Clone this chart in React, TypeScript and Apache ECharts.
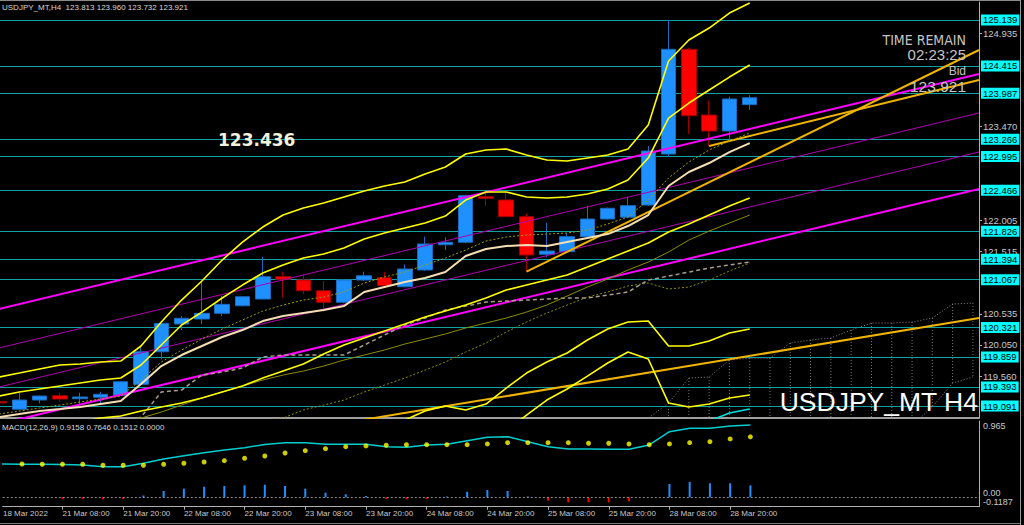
import React, { useEffect, useRef } from 'react';
import * as echarts from 'echarts';

// ---------- data ----------
const xLabelIndex = [0, 3, 6, 9, 12, 15, 18, 21, 24, 27, 30, 33, 36];
const xLabelText = ['18 Mar 2022', '21 Mar 08:00', '21 Mar 20:00', '22 Mar 08:00', '22 Mar 20:00', '23 Mar 08:00', '23 Mar 20:00', '24 Mar 08:00', '24 Mar 20:00', '25 Mar 08:00', '25 Mar 20:00', '28 Mar 08:00', '28 Mar 20:00'];

const opens = [119.16, 119.04, 119.185, 119.252, 119.205, 119.227, 119.258, 119.431, 119.941, 120.376, 120.454, 120.543, 120.662, 120.767, 121.117, 121.065, 120.897, 120.716, 121.065, 121.101, 120.96, 121.222, 121.618, 121.656, 122.37, 122.319, 122.057, 121.468, 121.509, 121.744, 122.021, 122.05, 122.24, 123.039, 124.68, 123.65, 123.4, 123.813];
const closes = [119.14, 119.185, 119.247, 119.2, 119.232, 119.274, 119.471, 119.941, 120.386, 120.465, 120.543, 120.684, 120.803, 121.117, 121.076, 120.897, 120.716, 121.065, 121.132, 120.976, 121.237, 121.629, 121.656, 122.386, 122.345, 122.057, 121.457, 121.519, 121.744, 122.021, 122.189, 122.23, 123.086, 124.68, 123.639, 123.4, 123.901, 123.921];
const lows = [119.13, 119.03, 119.133, 119.158, 119.106, 119.122, 119.25, 119.42, 119.822, 120.282, 120.376, 120.5, 120.65, 120.76, 120.788, 120.846, 120.568, 120.7, 121.05, 120.96, 120.95, 121.21, 121.535, 121.64, 122.225, 122.05, 121.195, 121.421, 121.5, 121.73, 122.01, 122.04, 122.23, 122.995, 123.353, 123.165, 123.259, 123.732];
const highs = [119.17, 119.294, 119.255, 119.299, 119.299, 119.315, 119.48, 120.02, 120.39, 120.501, 121.038, 120.819, 120.81, 121.43, 121.195, 121.159, 121.049, 121.08, 121.195, 121.195, 121.311, 121.744, 121.734, 122.4, 122.439, 122.439, 122.11, 121.963, 121.797, 122.229, 122.2, 122.37, 123.165, 125.139, 124.705, 123.875, 123.937, 123.96];

const bbUpper2 = [119.545, 119.607, 119.67, 119.733, 119.748, 119.78, 119.795, 120.031, 120.407, 120.751, 121.049, 121.378, 121.66, 121.895, 122.083, 122.193, 122.271, 122.365, 122.459, 122.538, 122.6, 122.726, 122.835, 123.039, 123.102, 123.117, 123.023, 122.945, 122.929, 122.976, 123.023, 123.117, 123.493, 124.496, 124.825, 125.013, 125.248, 125.405];
const bbUpper1 = [119.247, 119.31, 119.357, 119.404, 119.451, 119.498, 119.529, 119.733, 120.046, 120.36, 120.563, 120.783, 120.986, 121.174, 121.3, 121.409, 121.472, 121.566, 121.707, 121.801, 121.879, 121.958, 122.067, 122.318, 122.444, 122.444, 122.365, 122.35, 122.365, 122.412, 122.491, 122.632, 122.976, 123.603, 123.838, 124.042, 124.245, 124.434];
const bbMiddle = [118.652, 118.699, 118.746, 118.793, 118.84, 118.902, 118.934, 119.012, 119.075, 119.137, 119.216, 119.31, 119.404, 119.529, 119.639, 119.748, 119.905, 120.046, 120.156, 120.266, 120.375, 120.485, 120.579, 120.673, 120.783, 120.908, 120.986, 121.065, 121.143, 121.268, 121.394, 121.519, 121.644, 121.817, 121.942, 122.083, 122.224, 122.35];
const bbLower1 = [118.056, 118.088, 118.135, 118.182, 118.229, 118.307, 118.338, 118.291, 118.103, 117.915, 117.868, 117.837, 117.821, 117.884, 117.978, 118.088, 118.213, 118.526, 118.605, 118.73, 118.871, 119.012, 119.09, 119.028, 119.122, 119.372, 119.607, 119.78, 119.921, 120.125, 120.297, 120.407, 120.422, 120.031, 120.031, 120.109, 120.234, 120.297];
const bbLower2 = [117.759, 117.79, 117.821, 117.853, 117.931, 118.025, 118.072, 117.994, 117.743, 117.523, 117.382, 117.241, 117.147, 117.163, 117.194, 117.304, 117.414, 117.727, 117.853, 117.994, 118.15, 118.244, 118.323, 118.307, 118.464, 118.699, 118.949, 119.184, 119.357, 119.56, 119.764, 119.937, 119.827, 119.137, 119.075, 119.122, 119.216, 119.263];
const bbLower3 = [null, null, null, null, null, null, null, null, null, null, null, null, null, null, null, null, null, null, null, null, null, null, null, null, null, null, null, null, null, null, null, null, null, 118.714, 118.777, 118.855, 118.981, 119.043];

const maWheat = [118.918, 118.965, 119.012, 119.043, 119.075, 119.122, 119.169, 119.435, 119.717, 119.89, 120.031, 120.172, 120.281, 120.422, 120.501, 120.548, 120.595, 120.657, 120.877, 120.955, 121.033, 121.096, 121.19, 121.441, 121.55, 121.597, 121.613, 121.597, 121.66, 121.723, 121.785, 121.911, 122.083, 122.538, 122.757, 122.898, 123.07, 123.211];
const maDotted = [118.965, 119.012, 119.059, 119.106, 119.153, 119.2, 119.247, 119.498, 119.78, 119.968, 120.14, 120.297, 120.438, 120.579, 120.673, 120.751, 120.798, 120.877, 121.018, 121.112, 121.19, 121.3, 121.409, 121.535, 121.676, 121.738, 121.77, 121.785, 121.801, 121.848, 121.942, 122.052, 122.318, 122.663, 122.914, 123.102, 123.243, 123.368];
const maOlive = [118.558, 118.605, 118.652, 118.699, 118.746, 118.793, 118.84, 118.902, 118.996, 119.106, 119.216, 119.31, 119.404, 119.498, 119.576, 119.639, 119.717, 119.811, 119.89, 119.968, 120.062, 120.14, 120.219, 120.313, 120.391, 120.469, 120.563, 120.673, 120.814, 120.955, 121.08, 121.221, 121.347, 121.503, 121.691, 121.832, 121.958, 122.083];
const maOliveDotted = [118.401, 118.417, 118.432, 118.448, 118.464, 118.479, 118.495, 118.526, 118.558, 118.605, 118.652, 118.714, 118.793, 118.871, 118.902, 119.028, 119.106, 119.184, 119.31, 119.419, 119.529, 119.654, 119.78, 119.937, 120.078, 120.25, 120.407, 120.548, 120.673, 120.798, 120.877, 120.971, 121.018, 120.924, 120.955, 121.065, 121.206, 121.331];
const kijun = [118.714, 118.714, 118.714, 118.714, 118.714, 118.714, 118.793, 118.918, 119.31, 119.341, 119.576, 119.623, 119.686, 119.858, 119.89, 119.89, 119.89, 119.89, 120.046, 120.203, 120.36, 120.469, 120.595, 120.657, 120.72, 120.736, 120.751, 120.767, 120.783, 120.783, 120.83, 120.877, 121.065, 121.127, 121.19, 121.253, 121.3, 121.347];

const cloudStart = 31;
const spanA = [118.714, 118.902, 119.137, 119.529, 119.545, 119.811, 119.842, 119.842, 120.078, 120.125, 120.156, 120.281, 120.391, 120.391, 120.407, 120.469, 120.689, 120.704];
const spanB = [118.323, 118.323, 118.37, 118.37, 118.401, 118.401, 118.432, 118.432, 118.464, 118.464, 118.495, 118.558, 118.62, 118.683, 118.793, 119.075, 119.451, 119.545];

// trend lines: [startIndex, startPrice, endIndex, endPrice]
const magentaThick = [[0, 120.611, 48.3, 124.293], [0, 118.809, 48.3, 122.491]];
const magentaThin = [[0, 120.0, 48.3, 123.682], [0, 119.388, 48.3, 123.071]];
const goldLines = [[26, 121.195, 48.3, 124.669], [35, 123.165, 48.3, 124.199], [0, 117.931, 48.3, 120.47]];

const levelPrices = [125.139, 124.415, 123.987, 123.266, 122.995, 122.466, 121.826, 121.394, 121.067, 120.321, 119.859, 119.393, 119.091];
const priceTicks = [124.935, 123.47, 122.005, 121.515, 120.535, 120.05, 119.56];
const bidPrice = 123.921;

const macdMain = [0.4215, 0.419, 0.4177, 0.4139, 0.4089, 0.3873, 0.3873, 0.4304, 0.4848, 0.5266, 0.5646, 0.5987, 0.6278, 0.6684, 0.6911, 0.6911, 0.6709, 0.6709, 0.6709, 0.6405, 0.6329, 0.662, 0.6709, 0.7165, 0.7595, 0.7671, 0.7038, 0.6405, 0.6114, 0.6114, 0.6076, 0.6076, 0.662, 0.8304, 0.8734, 0.8734, 0.9025, 0.9158];
const macdSignal = [0.4304, 0.4215, 0.4177, 0.4177, 0.4177, 0.4051, 0.4051, 0.4051, 0.4177, 0.4304, 0.4468, 0.4633, 0.4937, 0.5228, 0.5608, 0.5899, 0.6152, 0.6405, 0.6494, 0.6582, 0.6658, 0.6658, 0.6658, 0.6658, 0.6747, 0.6911, 0.6911, 0.6911, 0.6911, 0.6835, 0.6835, 0.6747, 0.6658, 0.6747, 0.6911, 0.7038, 0.738, 0.7646];
const macdHist = [0, 0, 0, -0.0215, -0.0215, -0.0253, -0.0215, 0.0228, 0.0797, 0.1089, 0.1342, 0.143, 0.1519, 0.1595, 0.143, 0.1089, 0.0582, 0.038, 0.0165, -0.0215, -0.0253, -0.0215, 0.0101, 0.0709, 0.0924, 0.0797, 0.0101, -0.043, -0.0633, -0.0633, -0.0633, -0.0506, 0, 0.1684, 0.1937, 0.1772, 0.1772, 0.1512];
const macdMax = 0.965;
const macdMin = -0.1187;

const X_MIN = 0.05;
const X_MAX = 48.3;
const PRICE_MIN = 118.903;
const PRICE_MAX = 125.421;

const pairs = (arr: (number | null)[], start = 0) =>
  arr.map((v, i) => [i + start, v]).filter((p) => p[1] !== null);

export default function App() {
  const ref = useRef<HTMLDivElement>(null);
  useEffect(() => {
    document.body.style.margin = '0';
    document.body.style.background = '#000';
    const chart = echarts.init(ref.current as HTMLDivElement, null, { renderer: 'svg' });
    const font = "'Liberation Sans', Arial, sans-serif";
    const labelGray = '#c8c8c8';
    const axisGray = '#b0b0b0';

    const line = (data: any[], color: string, width: number, type: any = 'solid', z = 4, extra: any = {}) => ({
      type: 'line',
      data,
      xAxisIndex: 0,
      yAxisIndex: 0,
      showSymbol: false,
      symbol: 'none',
      silent: true,
      clip: true,
      z,
      lineStyle: { color, width, type },
      ...extra,
    });
    const seg = (s: number[]) => [[s[0], s[1]], [s[2], s[3]]];

    const series: any[] = [];

    // cloud hatching
    series.push({
      type: 'custom',
      xAxisIndex: 0,
      yAxisIndex: 0,
      clip: true,
      silent: true,
      z: 1,
      data: spanA.map((a, i) => [i + cloudStart, a, spanB[i]]),
      renderItem: (params: any, api: any) => {
        const cs = params.coordSys;
        const p1 = api.coord([api.value(0), api.value(1)]);
        const p2 = api.coord([api.value(0), api.value(2)]);
        const bottom = cs.y + cs.height;
        return {
          type: 'line',
          shape: { x1: p1[0], y1: Math.min(p1[1], bottom), x2: p1[0], y2: Math.min(p2[1], bottom) },
          style: { stroke: '#7a7a7a', lineWidth: 1, lineDash: [1, 2] },
        };
      },
    });
    series.push(line(pairs(spanA, cloudStart), '#8a8a8a', 1, [1, 2], 1));
    series.push(line(pairs(spanB, cloudStart), '#8a8a8a', 1, [1, 2], 1));

    // bid label (below level labels)
    series.push(
      line([], '#000', 0, 'solid', 1, {
        markLine: {
          silent: true,
          z: 1,
          symbol: ['none', 'none'],
          animation: false,
          lineStyle: { opacity: 0 },
          label: {
            show: true, position: 'end', distance: 2, color: '#000', backgroundColor: '#ffffff',
            padding: [1, 2, 0, 2], fontSize: 9.5, fontFamily: font, formatter: '{b}',
          },
          data: [{ yAxis: bidPrice, name: bidPrice.toFixed(3) }],
        },
      })
    );

    // candles + horizontal levels
    series.push({
      type: 'candlestick',
      xAxisIndex: 0,
      yAxisIndex: 0,
      barWidth: 15,
      silent: true,
      z: 3,
      data: opens.map((o, i) => [i, o, closes[i], lows[i], highs[i]]),
      itemStyle: { color: '#1e90ff', color0: '#ff0000', borderColor: '#1a6cc0', borderColor0: '#a00000', borderWidth: 1 },
      markLine: {
        silent: true,
        z: 2,
        symbol: ['none', 'none'],
        animation: false,
        lineStyle: { color: '#10a0a0', width: 1, type: 'solid' },
        label: {
          show: true, position: 'end', distance: 2, color: '#000', backgroundColor: '#00ffff',
          padding: [1, 2, 0, 2], fontSize: 9.5, fontFamily: font, formatter: '{b}',
        },
        data: levelPrices.map((v) => ({ yAxis: v, name: v.toFixed(3) })),
      },
    });

    magentaThick.forEach((s) => series.push(line(seg(s), '#ff00ff', 2)));
    magentaThin.forEach((s) => series.push(line(seg(s), '#b000b0', 1)));
    goldLines.forEach((s) => series.push(line(seg(s), '#f0b400', 2)));

    series.push(line(pairs(kijun), '#a89c8c', 1.5, [4, 3]));
    series.push(line(pairs(maOliveDotted), '#8c8c00', 1, [2, 2]));
    series.push(line(pairs(maOlive), '#8c8c00', 1));
    series.push(line(pairs(maDotted), '#a0a000', 1, [2, 2]));
    series.push(line(pairs(maWheat), '#f5deb3', 2));
    series.push(line(pairs(bbUpper2), '#ffff00', 1.6));
    series.push(line(pairs(bbUpper1), '#ffff00', 1.6));
    series.push(line(pairs(bbMiddle), '#ffff00', 1.6));
    series.push(line(pairs(bbLower1), '#ffff00', 1.6));
    series.push(line(pairs(bbLower2), '#ffff00', 1.6));
    series.push(line(pairs(bbLower3), '#00e0e0', 1.6));

    // in-chart level texts
    series.push(
      line([], '#000', 0, 'solid', 6, {
        markLine: {
          silent: true,
          z: 6,
          symbol: ['none', 'none'],
          animation: false,
          lineStyle: { opacity: 0 },
          label: {
            show: true, position: 'insideMiddleTop', distance: 3, color: '#e4e4e4',
            fontSize: 14, fontFamily: font, formatter: '{b}',
          },
          data: levelPrices.map((v) => ({ yAxis: v, name: v.toFixed(3) })),
        },
      })
    );

    // MACD
    series.push({
      type: 'bar',
      xAxisIndex: 1,
      yAxisIndex: 1,
      barWidth: 2,
      silent: true,
      z: 2,
      data: macdHist.map((v, i) => ({ value: [i, v], itemStyle: { color: v >= 0 ? '#1e90ff' : '#ff0000' } })),
      markLine: {
        silent: true,
        symbol: ['none', 'none'],
        animation: false,
        label: { show: false },
        lineStyle: { color: '#8a8a8a', type: [2, 2], width: 1 },
        data: [{ yAxis: 0 }],
      },
    });
    series.push({
      type: 'line', xAxisIndex: 1, yAxisIndex: 1, showSymbol: false, symbol: 'none', silent: true, z: 3,
      data: pairs(macdMain), lineStyle: { color: '#00ced1', width: 1.5 },
    });
    series.push({
      type: 'scatter', xAxisIndex: 1, yAxisIndex: 1, symbolSize: 5, silent: true, z: 4,
      data: pairs(macdSignal), itemStyle: { color: '#ffff00' },
    });

    const macdAxis = (values: number[], fmt: (v: number) => string, vAlign: string, showLine: boolean) => ({
      type: 'value',
      gridIndex: 1,
      position: 'right',
      min: macdMin,
      max: macdMax,
      axisLine: { show: showLine, onZero: false, lineStyle: { color: axisGray } },
      axisTick: { show: false },
      axisLabel: {
        show: values.length > 0,
        customValues: values,
        margin: 4,
        color: labelGray,
        fontSize: 9,
        fontFamily: font,
        verticalAlign: vAlign,
        showMinLabel: true,
        showMaxLabel: true,
        formatter: fmt,
      },
      splitLine: { show: false },
    });

    const option: any = {
      animation: false,
      backgroundColor: '#000',
      textStyle: { fontFamily: font },
      grid: [
        { left: 0, right: 45, top: 2, bottom: 107 },
        { left: 0, right: 45, top: 421, bottom: 18.3 },
      ],
      xAxis: [
        {
          type: 'value', gridIndex: 0, min: X_MIN, max: X_MAX,
          axisLine: { show: true, onZero: false, lineStyle: { color: '#a0a0a0', width: 2 } },
          axisTick: { show: false }, axisLabel: { show: false }, splitLine: { show: false },
        },
        {
          type: 'value', gridIndex: 1, min: X_MIN, max: X_MAX,
          axisLine: { show: true, onZero: false, lineStyle: { color: axisGray, width: 1 } },
          axisTick: { show: true, customValues: xLabelIndex.slice(1), length: 3, lineStyle: { color: axisGray } },
          axisLabel: {
            show: true,
            customValues: [0.06].concat(xLabelIndex.slice(1)),
            align: 'left',
            margin: 3,
            color: labelGray,
            fontSize: 8,
            fontFamily: font,
            showMinLabel: true,
            showMaxLabel: true,
            formatter: (v: number) => {
              const k = xLabelIndex.findIndex((x) => Math.abs(x - v) < 0.5);
              return k >= 0 ? xLabelText[k] : '';
            },
          },
          splitLine: { show: false },
        },
      ],
      yAxis: [
        {
          type: 'value', gridIndex: 0, position: 'right', min: PRICE_MIN, max: PRICE_MAX,
          axisLine: { show: true, onZero: false, lineStyle: { color: axisGray } },
          axisTick: { show: true, customValues: priceTicks, length: 3, lineStyle: { color: axisGray } },
          axisLabel: {
            show: true, customValues: priceTicks, margin: 4, color: labelGray, fontSize: 9.5, fontFamily: font,
            formatter: (v: number) => v.toFixed(3),
          },
          splitLine: { show: false },
        },
        macdAxis([], (v) => v.toFixed(3), 'middle', true),
        macdAxis([0], () => '0.00', 'bottom', false),
        macdAxis([macdMin], (v) => v.toFixed(4), 'bottom', false),
      ],
      graphic: [
        { type: 'line', shape: { x1: 0, y1: 0.5, x2: 1020, y2: 0.5 }, style: { stroke: '#8a8a8a', lineWidth: 1 }, silent: true },
        { type: 'line', shape: { x1: 1020.5, y1: 0, x2: 1020.5, y2: 525 }, style: { stroke: '#9a9a9a', lineWidth: 1 }, silent: true },
        { type: 'line', shape: { x1: 0, y1: 523.5, x2: 1020, y2: 523.5 }, style: { stroke: '#7a7a7a', lineWidth: 1 }, silent: true },
        {
          type: 'text', x: 983, y: 426, silent: true, z: 100,
          style: { text: macdMax.toFixed(3), fill: labelGray, fontSize: 9, fontFamily: font, verticalAlign: 'middle', align: 'left' },
        },
        {
          type: 'text', x: 2, y: 7, silent: true, z: 100,
          style: { text: 'USDJPY_MT,H4  123.813 123.960 123.732 123.921', fill: '#d8d8d8', fontSize: 8, fontFamily: font, verticalAlign: 'middle', align: 'left' },
        },
        {
          type: 'text', x: 2, y: 427, silent: true, z: 100,
          style: { text: 'MACD(12,26,9) 0.9158 0.7646 0.1512 0.0000', fill: '#d8d8d8', fontSize: 8, fontFamily: font, verticalAlign: 'middle', align: 'left' },
        },
        {
          type: 'text', x: 218, y: 140, silent: true, z: 100,
          style: { text: '123.436', fill: '#f2f2dc', fontSize: 17, fontWeight: 'bold', fontFamily: "'DejaVu Sans', sans-serif", verticalAlign: 'middle', align: 'left' },
        },
        {
          type: 'text', x: 966, y: 40, silent: true, z: 100,
          style: { text: 'TIME REMAIN', fill: '#c4c4c4', fontSize: 14, fontFamily: "'Liberation Sans Narrow', 'DejaVu Sans Condensed', sans-serif", verticalAlign: 'middle', align: 'right' },
        },
        {
          type: 'text', x: 966, y: 54.5, silent: true, z: 100,
          style: { text: '02:23:25', fill: '#c4c4c4', fontSize: 15, fontFamily: font, verticalAlign: 'middle', align: 'right' },
        },
        {
          type: 'text', x: 966, y: 71, silent: true, z: 100,
          style: { text: 'Bid', fill: '#c4c4c4', fontSize: 12, fontFamily: font, verticalAlign: 'middle', align: 'right' },
        },
        {
          type: 'text', x: 966, y: 86, silent: true, z: 100,
          style: { text: '123.921', fill: '#c4c4c4', fontSize: 15.5, fontFamily: font, verticalAlign: 'middle', align: 'right' },
        },
        {
          type: 'text', x: 978, y: 402, silent: true, z: 100,
          style: { text: 'USDJPY_MT H4', fill: '#ffffff', fontSize: 26.5, fontFamily: font, verticalAlign: 'middle', align: 'right' },
        },
      ],
      series,
    };
    chart.setOption(option);
    return () => chart.dispose();
  }, []);
  return <div ref={ref} style={{ width: 1024, height: 525, background: '#000' }} />;
}
